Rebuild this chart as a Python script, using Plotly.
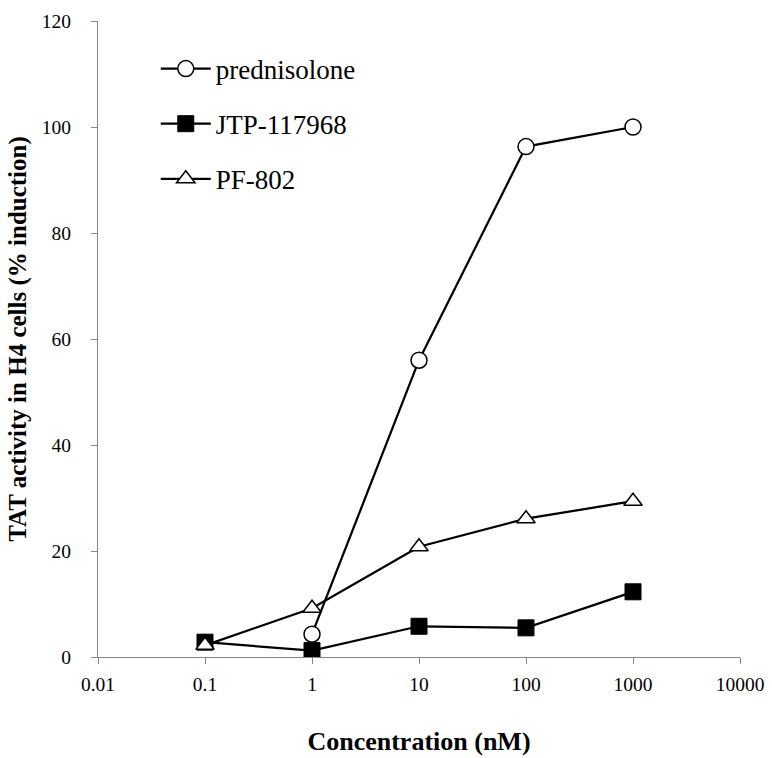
import plotly.graph_objects as go

conc_pred = [1, 10, 100, 1000]
pred = [4.3, 56.0, 96.3, 100.0]
conc = [0.1, 1, 10, 100, 1000]
jtp = [2.8, 1.2, 5.8, 5.5, 12.3]
pf = [2.2, 9.2, 20.8, 26.1, 29.4]
xticks = [0.01, 0.1, 1, 10, 100, 1000, 10000]
xticklabels = ["0.01", "0.1", "1", "10", "100", "1000", "10000"]
yticks = [0, 20, 40, 60, 80, 100, 120]

font = "Times New Roman, Liberation Serif, DejaVu Serif, serif"
lw = 2.25
fig = go.Figure()
fig.add_trace(go.Scatter(x=conc_pred, y=pred, name="prednisolone", mode="lines+markers",
                         line=dict(color="black", width=lw), legendgroup="a",
                         marker=dict(symbol="circle", size=16, color="white", line=dict(color="black", width=1.5))))
fig.add_trace(go.Scatter(x=conc, y=jtp, name="JTP-117968", mode="lines+markers",
                         line=dict(color="black", width=lw), legendgroup="b",
                         marker=dict(symbol="square", size=16, color="black", line=dict(color="black", width=1))))
fig.add_trace(go.Scatter(x=conc, y=pf, name="PF-802", mode="lines+markers",
                         line=dict(color="black", width=lw), legendgroup="c",
                         marker=dict(symbol="triangle-up", size=16, color="white", line=dict(color="black", width=1.5))))

fig.update_layout(
    width=772, height=758, paper_bgcolor="white", plot_bgcolor="white",
    margin=dict(l=98, r=32, t=21, b=101),
    font=dict(family=font, size=19.5, color="black"),
    legend=dict(x=0.09, y=0.963, xanchor="left", yanchor="top", bgcolor="rgba(0,0,0,0)",
                font=dict(size=27, family=font), tracegroupgap=17, traceorder="grouped",
                itemwidth=50),
    xaxis=dict(type="log", range=[-2, 4], tickvals=xticks, ticktext=xticklabels,
               showline=True, linecolor="#868686", linewidth=1, ticks="outside", tickcolor="#868686",
               ticklen=6, showgrid=False, zeroline=False, ticklabelstandoff=4, automargin=False,
               title=dict(text="<b>Concentration (nM)</b>", font=dict(size=26, family=font), standoff=37)),
    yaxis=dict(range=[0, 120], tickvals=yticks, showline=True, linecolor="#868686", linewidth=1,
               ticks="outside", tickcolor="#868686", ticklen=6, showgrid=False, zeroline=False,
               ticklabelstandoff=16, automargin=False,
               title=dict(text="<b>TAT activity in H4 cells (% induction)</b>", font=dict(size=25, family=font), standoff=8)),
)
fig.write_html("out.html")
